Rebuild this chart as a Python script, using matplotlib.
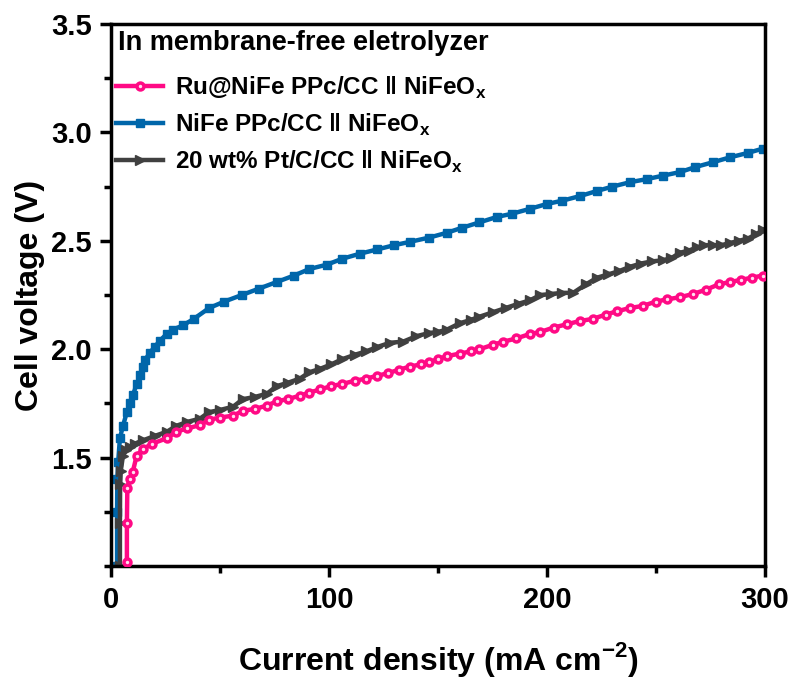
import matplotlib
matplotlib.use("Agg")
import matplotlib.pyplot as plt
from matplotlib.ticker import MultipleLocator

plt.rcParams["font.family"] = ["Liberation Sans", "DejaVu Sans"]
plt.rcParams["font.weight"] = "bold"
plt.rcParams["mathtext.fontset"] = "custom"
plt.rcParams["mathtext.bf"] = "Liberation Sans:bold"
plt.rcParams["mathtext.rm"] = "Liberation Sans:bold"

# Ru@NiFe PPc/CC || NiFeOx
ru_j = [7.3, 7.3, 7.5, 8.5, 10.0, 11.8, 14.7, 19, 25.7, 30, 35, 40.8, 45, 50, 56, 60.5,
        66, 71.5, 76, 81, 86.7, 91, 96, 101, 106, 112, 117, 122, 127, 132, 137, 142,
        146, 150, 154, 160, 165, 169, 175, 180, 186, 192, 197, 203, 209, 215, 221,
        227, 232, 238, 244, 250, 255, 261, 267, 273, 279, 284, 289, 294, 299]
ru_v = [1.02, 1.20, 1.36, 1.40, 1.435, 1.51, 1.54, 1.565, 1.59, 1.62, 1.635, 1.65, 1.675,
        1.685, 1.694, 1.716, 1.725, 1.74, 1.76, 1.77, 1.786, 1.80, 1.815, 1.83, 1.84,
        1.855, 1.865, 1.877, 1.89, 1.905, 1.92, 1.93, 1.94, 1.955, 1.968, 1.98, 1.99,
        2.00, 2.02, 2.035, 2.05, 2.07, 2.08, 2.10, 2.115, 2.13, 2.14, 2.16, 2.175, 2.19,
        2.2, 2.22, 2.23, 2.24, 2.255, 2.275, 2.30, 2.31, 2.32, 2.33, 2.34]

# NiFe PPc/CC || NiFeOx
nife_j = [2.8, 2.8, 2.9, 3.3, 4.1, 5.5, 7.3, 8.8, 10.1, 11.8, 13.3, 14.5, 15.6, 17.9, 20,
          22.5, 25.5, 28.4, 33, 38, 45, 52, 60, 68, 76, 84, 91, 99, 106, 114, 122, 130,
          137, 146, 154, 161, 169, 177, 184, 192, 200, 207, 215, 223, 230, 238, 246,
          253, 261, 268, 276, 284, 292, 299]
nife_v = [1.0, 1.25, 1.40, 1.48, 1.59, 1.647, 1.71, 1.75, 1.79, 1.84, 1.88, 1.92, 1.95,
          1.985, 2.01, 2.04, 2.07, 2.09, 2.11, 2.14, 2.19, 2.22, 2.25, 2.28, 2.31, 2.34,
          2.37, 2.39, 2.417, 2.44, 2.46, 2.48, 2.495, 2.515, 2.537, 2.56, 2.585, 2.61,
          2.625, 2.647, 2.67, 2.685, 2.706, 2.73, 2.75, 2.77, 2.785, 2.80, 2.817, 2.84,
          2.862, 2.885, 2.905, 2.925]

# 20 wt% Pt/C/CC || NiFeOx
pt_j = [4.1, 4.1, 4.2, 4.5, 5.5, 7.0, 8.7, 11, 14.7, 20, 25.7, 30, 35, 40.8, 45, 50, 56,
        60.5, 66, 71.5, 76, 81, 86.7, 91, 96, 101, 106, 112, 117, 122, 128, 134, 140,
        146, 150, 154, 160, 165, 169, 175, 181, 187, 192, 197, 202, 207, 212, 218, 223,
        228, 233, 238, 243, 248, 253, 257, 261, 265, 269, 272, 276, 280, 284, 288, 292,
        296, 299]
pt_v = [1.0, 1.20, 1.38, 1.44, 1.51, 1.535, 1.55, 1.565, 1.58, 1.60, 1.62, 1.647, 1.665,
        1.68, 1.71, 1.72, 1.735, 1.77, 1.78, 1.795, 1.83, 1.845, 1.865, 1.894, 1.91, 1.93,
        1.954, 1.975, 1.99, 2.01, 2.03, 2.035, 2.06, 2.075, 2.08, 2.09, 2.12, 2.135,
        2.15, 2.17, 2.19, 2.21, 2.225, 2.25, 2.255, 2.26, 2.26, 2.30, 2.33, 2.345, 2.36,
        2.38, 2.395, 2.405, 2.41, 2.42, 2.445, 2.455, 2.47, 2.48, 2.48, 2.48, 2.49, 2.50,
        2.51, 2.53, 2.55]

labels = [
    r"Ru@NiFe PPc/CC ǁ NiFeO$_\mathbf{x}$",
    r"NiFe PPc/CC ǁ NiFeO$_\mathbf{x}$",
    r"20 wt% Pt/C/CC ǁ NiFeO$_\mathbf{x}$",
]

fig = plt.figure(figsize=(7.95, 6.78), dpi=100)
ax = fig.add_axes([0.1396, 0.165, 0.8227, 0.7997])

ax.plot(ru_j, ru_v, color="#FF0A85", lw=3.2, marker="o", ms=5.0,
        mfc="#FFE0F0", mec="#FF0A85", mew=2.5, label=labels[0], zorder=3)
ax.plot(nife_j, nife_v, color="#0066AA", lw=3.2, marker="s", ms=5.5,
        mec="#0066AA", label=labels[1], zorder=2)
ax.plot(pt_j, pt_v, color="#404040", lw=3.2, marker=">", ms=6.5,
        mec="#404040", label=labels[2], zorder=2)

ax.set_xlim(0, 300)
ax.set_ylim(1.0, 3.5)
ax.xaxis.set_major_locator(MultipleLocator(100))
ax.xaxis.set_minor_locator(MultipleLocator(50))
ax.yaxis.set_minor_locator(MultipleLocator(0.25))
ax.set_yticks([1.5, 2.0, 2.5, 3.0, 3.5])

for s in ax.spines.values():
    s.set_linewidth(2.5)
ax.tick_params(which="major", direction="out", length=8, width=2.5,
               labelsize=21, pad=6)
ax.tick_params(which="minor", direction="out", length=5, width=2.5)
for t in ax.get_xticklabels() + ax.get_yticklabels():
    t.set_fontweight("bold")

ax.set_xlabel("Current density (mA cm$^{-2}$)", fontsize=23, fontweight="bold", labelpad=19)
ax.set_ylabel("Cell voltage (V)", fontsize=23, fontweight="bold", labelpad=4)

ax.text(0.011, 0.988, "In membrane-free eletrolyzer", transform=ax.transAxes,
        ha="left", va="top", fontsize=19.5, fontweight="bold")
ax.legend(loc="upper left", bbox_to_anchor=(0.0, 0.916), frameon=False,
          prop={"size": 17.5, "weight": "bold"}, handlelength=1.95,
          borderaxespad=0.0, labelspacing=0.45, handletextpad=0.5,
          borderpad=0.2)

fig.savefig("out.png", dpi=100)
